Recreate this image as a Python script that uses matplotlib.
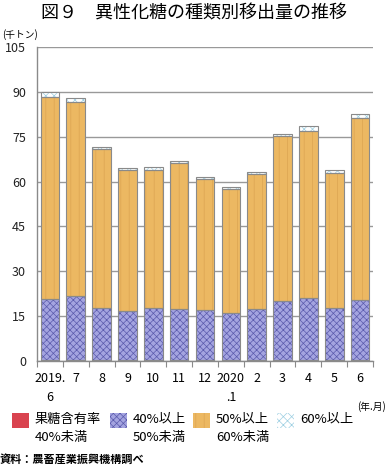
import matplotlib
matplotlib.use("Agg")
import matplotlib.pyplot as plt
from matplotlib.patches import Rectangle
import numpy as np

plt.rcParams['font.family'] = ['Noto Sans CJK JP', 'DejaVu Sans']
plt.rcParams['hatch.linewidth'] = 0.5

# data (千トン)
months = ["2019.\n6", "7", "8", "9", "10", "11", "12", "2020\n.1", "2", "3", "4", "5", "6"]
below40 = [0.3, 0.3, 0.3, 0.3, 0.3, 0.3, 0.3, 0.3, 0.3, 0.3, 0.3, 0.3, 0.3]
from40to50 = [20.3, 21.4, 17.5, 16.4, 17.4, 17.1, 16.6, 15.7, 17.1, 19.8, 20.6, 17.4, 20.0]
from50to60 = [67.7, 64.9, 53.1, 47.3, 46.3, 48.7, 43.8, 41.6, 45.0, 55.0, 56.1, 45.1, 60.8]
over60 = [1.5, 1.2, 0.8, 0.6, 0.9, 0.7, 0.7, 0.5, 0.7, 0.8, 1.5, 1.1, 1.4]

series = [below40, from40to50, from50to60, over60]
labels = ["果糖含有率\n40%未満", "40%以上\n50%未満", "50%以上\n60%未満", "60%以上"]
faces = ["#d9434f", "#a4a4e0", "#ecb862", "#ffffff"]
hatches = [None, "xxxxx", "||", "xxxx"]
hcolors = [None, "#5a5aac", "#dca452", "#9ccfe2"]
grey = "#8a8a8a"

fig = plt.figure(figsize=(3.89, 4.67), dpi=100)
ax = fig.add_axes([37/389, 1-361/467, 336/389, 314/467])

x = np.arange(len(months))
w = 0.72
bottom = np.zeros(len(months))
for vals, fc, hat, hc in zip(series, faces, hatches, hcolors):
    vals = np.array(vals)
    if hat:
        ax.bar(x, vals, w, bottom=bottom, color=fc, edgecolor=hc, hatch=hat, linewidth=0, zorder=2)
    else:
        ax.bar(x, vals, w, bottom=bottom, color=fc, linewidth=0, zorder=2)
    ax.bar(x, vals, w, bottom=bottom, fill=False, edgecolor=grey, linewidth=0.8, zorder=3)
    bottom += vals

ax.set_xlim(-0.5, len(months) - 0.5)
ax.set_ylim(0, 105)
ax.set_yticks(range(0, 106, 15))
ax.yaxis.grid(True, color="#999999", linewidth=1.0, zorder=0)
ax.set_axisbelow(True)
ax.tick_params(axis='y', length=0, labelsize=9, pad=8, colors='#222222')

ax.set_xticks(np.arange(-0.5, len(months), 1.0))
ax.set_xticklabels([])
ax.set_xticks(x, minor=True)
ax.set_xticklabels(months, minor=True, fontsize=9, va='top', linespacing=1.6)
ax.tick_params(axis='x', which='major', length=4, color=grey, direction='out')
ax.tick_params(axis='x', which='minor', length=0, pad=8)

for s in ['top', 'right']:
    ax.spines[s].set_visible(False)
for s in ['left', 'bottom']:
    ax.spines[s].set_color(grey)
    ax.spines[s].set_linewidth(1.0)

fig.text(194/389, 1-14/467, "図９　異性化糖の種類別移出量の推移", ha='center', va='center', fontsize=13)
fig.text(2/389, 1-35/467, "(千トン)", ha='left', va='center', fontsize=7)
fig.text(386/389, 1-407/467, "(年.月)", ha='right', va='center', fontsize=7)

# legend
lx = [12, 110, 193, 277]
for px, lab, fc, hat, hc in zip(lx, labels, faces, hatches, hcolors):
    r = Rectangle((px/389, 1-428/467), 17/389, 15/467, transform=fig.transFigure,
                  facecolor=fc, edgecolor=hc if hc else fc, hatch=hat, linewidth=0)
    fig.add_artist(r)
    fig.text((px + 23)/389, 1-413/467, lab, ha='left', va='top', fontsize=9.5, linespacing=1.45)

fig.text(0, 1-459/467, "資料：農畜産業振興機構調べ", ha='left', va='center', fontsize=8, fontweight='bold')

fig.savefig("out.png", dpi=100)
